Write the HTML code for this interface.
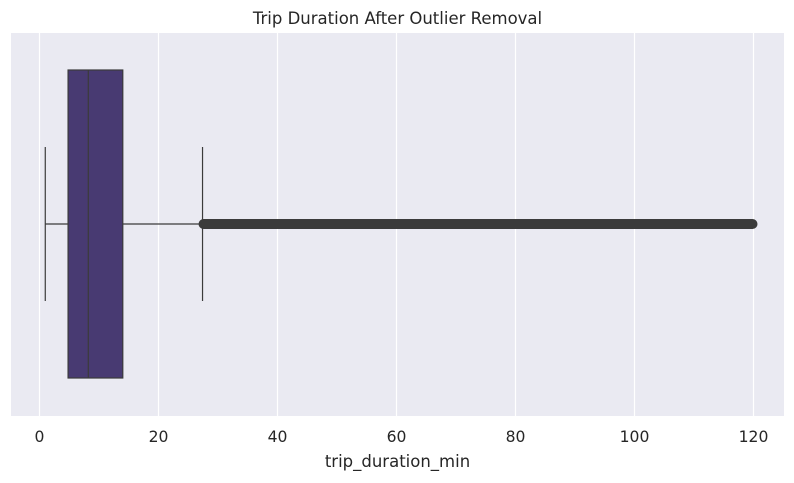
<!DOCTYPE html>
<html><head><meta charset="utf-8"><style>
body{margin:0;background:#fff;font-family:"DejaVu Sans","Liberation Sans",sans-serif}
</style></head><body>
<svg id="chart" width="794" height="479" xmlns="http://www.w3.org/2000/svg" font-family="DejaVu Sans, Liberation Sans, sans-serif">
<text x="397.5" y="24" text-anchor="middle" font-size="16.5" fill="#262626">Trip Duration After Outlier Removal</text>
<rect x="11" y="33" width="773" height="383" fill="#eaeaf2"/>
<g id="grid"></g>
<g id="box"></g>
<g id="ticks"></g>
<text x="397.5" y="467" text-anchor="middle" font-size="16.5" fill="#262626">trip_duration_min</text>
</svg>
<script>
const tickValues=[0,20,40,60,80,100,120];
const tickLabels=["0","20","40","60","80","100","120"];
const whiskerLow=[0.97];
const q1=[4.8];
const median=[8.2];
const q3=[14.0];
const whiskerHigh=[27.4];
const outlierRange=[27.4,120];
const NS="http://www.w3.org/2000/svg";
const x=v=>39.5+v*(714/120);
function mk(t,a,p){const e=document.createElementNS(NS,t);for(const k in a)e.setAttribute(k,a[k]);p.appendChild(e);return e;}
const grid=document.getElementById('grid'),box=document.getElementById('box'),ticks=document.getElementById('ticks');
tickValues.forEach((v,i)=>{
 const l=mk('line',{x1:x(v),x2:x(v),y1:33,y2:416,stroke:'#fff','stroke-width':1.2},grid);
 
 
 const t=mk('text',{x:x(v),y:442,'text-anchor':'middle','font-size':15.6,fill:'#262626'},ticks);
 t.textContent=tickLabels[i];
 
 
});
const cy=224,c='#3b3b3b';
const w1=mk('line',{x1:x(whiskerLow[0]),x2:x(q1[0]),y1:cy,y2:cy,stroke:c,'stroke-width':1.2},box);


const w2=mk('line',{x1:x(q3[0]),x2:x(whiskerHigh[0]),y1:cy,y2:cy,stroke:c,'stroke-width':1.2},box);


const cap1=mk('line',{x1:x(whiskerLow[0]),x2:x(whiskerLow[0]),y1:147,y2:301,stroke:c,'stroke-width':1.2},box);


const cap2=mk('line',{x1:x(whiskerHigh[0]),x2:x(whiskerHigh[0]),y1:147,y2:301,stroke:c,'stroke-width':1.2},box);


const r=mk('rect',{x:x(q1[0]),y:70,width:x(q3[0])-x(q1[0]),height:308,fill:'#483a72',stroke:c,'stroke-width':1.2},box);


const m=mk('line',{x1:x(median[0]),x2:x(median[0]),y1:70,y2:378,stroke:c,'stroke-width':1.2},box);


const o=mk('rect',{x:x(outlierRange[0])-4,y:cy-5,width:x(outlierRange[1])-x(outlierRange[0])+8,height:10,rx:5,fill:c},box);


</script>
</body></html>
